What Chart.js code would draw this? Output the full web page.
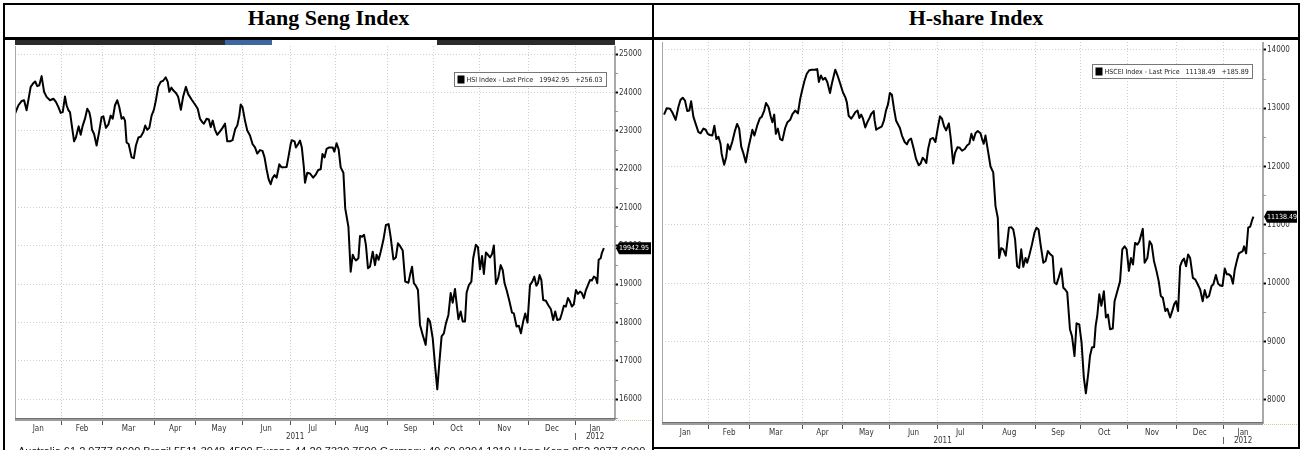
<!DOCTYPE html>
<html>
<head>
<meta charset="utf-8">
<title>Hang Seng Index / H-share Index</title>
<script src="https://cdn.jsdelivr.net/npm/chart.js@4.4.1/dist/chart.umd.min.js"></script>
<style>
  html, body { margin: 0; padding: 0; background: #fff; }
  body { width: 1303px; height: 450px; position: relative; overflow: hidden; }
  .rule { position: absolute; background: #000; }
  .title { position: absolute; top: 5px; height: 32px; line-height: 32px; text-align: center;
           font: bold 22px "Liberation Serif", "Times New Roman", serif; color: #000; }
  .panel { position: absolute; }
  .bar { position: absolute; top: 40px; height: 5px; }
  .footer { position: absolute; left: 18px; top: 446px; width: 634px; overflow: hidden; white-space: pre;
            font: 11px/11px "Liberation Sans", Arial, sans-serif; color: #111; }
</style>
</head>
<body>

<div class="title" style="left:5px; width:647px;">Hang Seng Index</div>
<div class="title" style="left:654px; width:644px;">H-share Index</div>

<!-- toolbar strip of the first Bloomberg screen, mostly hidden under the header -->
<div class="bar" style="left:15px; width:210px; background:#2b2b2b;"></div>
<div class="bar" style="left:225px; width:47px; background:#3d67a0;"></div>
<div class="bar" style="left:272px; width:165px; background:#fff;"></div>
<div class="bar" style="left:437px; width:178px; background:#2b2b2b;"></div>

<div class="panel" style="left:15px; top:46px; width:637px; height:402px;"><canvas id="hsiChart"></canvas></div>
<div class="panel" style="left:662px; top:42px; width:636px; height:405px;"><canvas id="hsceiChart"></canvas></div>

<div class="footer">Australia 61 2 9777 8600 Brazil 5511 3048 4500 Europe 44 20 7330 7500 Germany 49 69 9204 1210 Hong Kong 852 2977 6000</div>

<!-- table rules -->
<div class="rule" style="left:3px; top:3px; width:1297px; height:2px;"></div>
<div class="rule" style="left:3px; top:37px; width:1297px; height:3px;"></div>
<div class="rule" style="left:3px; top:3px; width:2px; height:447px;"></div>
<div class="rule" style="left:652px; top:3px; width:2px; height:447px;"></div>
<div class="rule" style="left:1298px; top:3px; width:2px; height:446px;"></div>
<div class="rule" style="left:652px; top:447px; width:648px; height:2px;"></div>

<script>
// x = trading day counted from 3 Jan 2011
const monthNames = ['Jan', 'Feb', 'Mar', 'Apr', 'May', 'Jun', 'Jul', 'Aug', 'Sep', 'Oct', 'Nov', 'Dec', 'Jan'];
const monthStarts = [0, 20.5, 38.5, 61.5, 79.5, 100, 121, 141, 164, 184, 204.5, 226, 246.5];
const yearLabels = ['2011', '2012'];
const dayMax = 264;

// --- Hang Seng Index ---
const hsiDays = [
  0, 1.5, 2.9, 4.0, 5.1, 6.9, 8.1, 8.9, 9.8, 10.7,
  11.7, 12.8, 13.9, 15.4, 16.9, 18.0, 19.1, 20.1, 21.0, 22.0,
  22.7, 23.5, 24.2, 25.1, 26.0, 26.8, 28.0, 28.9, 29.8, 30.8,
  31.8, 32.7, 33.3, 33.9, 34.8, 35.9, 37.0, 38.1, 38.9, 40.0,
  41.1, 42.1, 43.0, 44.0, 45.0, 45.9, 46.9, 47.7, 48.4, 49.1,
  50.0, 51.3, 52.3, 53.2, 54.3, 55.3, 56.5, 57.3, 58.2, 59.1,
  60.1, 61.1, 62.0, 63.0, 64.1, 65.2, 66.3, 67.2, 67.9, 68.8,
  69.6, 70.8, 71.8, 73.0, 74.0, 75.2, 76.2, 77.7, 79.2, 80.4,
  81.4, 82.4, 83.1, 84.3, 85.3, 86.1, 87.0, 88.0, 89.0, 90.2,
  91.3, 92.4, 93.4, 94.6, 95.7, 96.9, 97.8, 98.7, 99.3, 100.1,
  101.2, 102.2, 103.4, 104.5, 105.6, 106.6, 107.8, 108.9, 109.8, 110.7,
  111.6, 112.5, 113.3, 114.2, 115.1, 116.3, 117.3, 118.3, 119.5, 120.4,
  121.3, 121.8, 123.0, 123.6, 124.6, 125.4, 126.2, 127.1, 127.6, 128.6,
  129.8, 131.2, 132.4, 133.4, 134.5, 135.3, 136.2, 137.1, 138.3,
  139.8, 140.5, 141.5, 142.4, 143.3, 144.5, 145.3, 146.7, 147.7, 148.6,
  149.3, 150.0, 151.1, 151.8, 152.7, 153.6, 154.4, 155.3, 156.2, 157.4,
  158.4, 159.1, 160.0, 160.9, 162.1, 163.2, 164.4, 165.3, 166.5, 167.6,
  168.5, 169.4, 170.6, 171.7, 173.1, 173.8, 174.7, 175.5, 176.4, 177.3,
  178.2, 179.4, 180.7, 181.7, 182.6, 183.8, 184.8, 185.8, 186.7, 187.7,
  188.7, 189.6, 190.7, 191.7, 192.6, 193.6, 194.3, 195.1, 196.1, 197.0,
  198.0, 198.7, 199.7, 200.8, 201.6, 202.8, 203.7, 204.6, 205.5, 206.3,
  207.2, 208.1, 209.0, 209.9, 210.7, 211.6, 212.6, 213.7, 214.6, 215.4,
  216.3, 217.5, 218.7, 219.5, 220.7, 221.7, 222.6, 223.6, 224.5, 225.5,
  226.6, 227.6, 228.5, 229.4, 230.1, 230.8, 231.6, 232.4, 233.6, 234.6,
  235.8, 236.8, 237.7, 238.6, 239.8, 240.6, 241.5, 242.4, 243.3, 244.2,
  245.0, 245.9, 246.8, 247.7, 248.6, 249.4, 250.3, 251.2, 252.1, 253.0,
  253.8, 254.7, 255.6, 256.2, 256.8, 257.7, 258.2, 259.1
];
const hsiValues = [
  23450, 23670, 23780, 23800, 23540, 24150, 24250, 24290, 24170, 24190,
  24430, 24020, 23890, 23800, 23840, 23760, 23620, 23470, 23490, 23900,
  23670, 23540, 23490, 23100, 22730, 22830, 23120, 22900, 23140, 23320,
  23580, 23490, 23320, 23030, 22920, 22620, 22970, 23360, 23380, 23080,
  23170, 23400, 23320, 23670, 23800, 23620, 23320, 23360, 23270, 22700,
  22660, 22310, 22290, 22620, 22830, 22850, 22970, 23140, 23030, 23080,
  23400, 23550, 23800, 24150, 24280, 24310, 24400, 24280, 24020, 24130,
  24060, 23990, 23890, 23550, 23900, 24150, 23960, 23820, 23690, 23580,
  23320, 23230, 23190, 23320, 23300, 23100, 23270, 23030, 22900, 22990,
  23080, 23190, 22730, 22730, 22760, 23050, 23140, 23400, 23690, 23620,
  23270, 23010, 22880, 22660, 22570, 22410, 22500, 22480, 22310, 22000,
  21740, 21610, 21770, 21850, 21780, 22130, 22050, 22050, 22060, 22350,
  22660, 22760, 22730, 22570, 22660, 22750, 22570, 22050, 21650, 21910,
  21890, 21780, 21870, 21980, 22000, 22400, 22310, 22530, 22570,
  22570, 22460, 22680, 22520, 22050, 21910, 20980, 20500, 19330, 19770,
  19680, 19620, 19680, 20260, 20240, 20290, 20030, 19420, 19460, 19850,
  19500, 19770, 19640, 19850, 20160, 20550, 20570, 20230, 19650, 19700,
  20070, 20000, 19880, 19070, 19040, 19240, 19460, 19030, 18960, 18850,
  17940, 17680, 17420, 18110, 18030, 17590, 16900, 16260, 16940, 17640,
  17720, 17980, 18200, 18770, 18520, 18880, 18500, 18090, 18290, 18030,
  18030, 18780, 18980, 19070, 19680, 20030, 19970, 19390, 19740, 19270,
  19830, 19770, 19700, 19790, 20010, 19010, 19160, 19500, 19370, 19030,
  18850, 18570, 18260, 18240, 17900, 17920, 17720, 18030, 18240, 18000,
  18980, 19070, 19200, 18960, 19030, 19240, 19110, 18590, 18570, 18460,
  18350, 18070, 18290, 18070, 18090, 18240, 18440, 18420, 18640, 18550,
  18420, 18480, 18850, 18750, 18810, 18770, 18640, 18850, 18980, 19110,
  19100, 19200, 19160, 19030, 19640, 19680, 19810, 19942.95
];
const hsiChange = 256.03;
const hsiMajorTicks = [16000, 17000, 18000, 19000, 20000, 21000, 22000, 23000, 24000, 25000];
const hsiRange = [15460, 25216];

// --- HSCEI (H-share) Index ---
const hsceiDays = [
  0.9, 2.1, 3.5, 4.5, 6.0, 7.2, 8.1, 9.1, 10.1, 11.1,
  12.0, 12.8, 13.8, 14.8, 16.0, 17.0, 18.2, 19.2, 20.1, 21.1,
  22.1, 23.0, 23.9, 24.8, 25.7, 26.2, 27.3, 28.2, 28.9, 29.8,
  30.9, 32.1, 33.0, 33.9, 34.8, 35.8, 36.8, 38.0, 39.0, 39.7,
  40.6, 41.8, 43.0, 43.8, 44.9, 45.7, 46.8, 47.8, 48.5, 49.3,
  50.0, 50.9, 51.9, 52.9, 54.1, 55.1, 56.3, 57.3, 58.5, 59.7,
  60.7, 61.7, 62.6, 63.6, 64.7, 65.8, 67.0, 68.2, 68.9, 69.8,
  70.7, 71.7, 72.6, 73.8, 74.6, 76.1, 77.3, 78.3, 79.5, 80.5,
  81.2, 82.0, 83.1, 84.0, 84.9, 85.9, 86.7, 87.5, 88.3, 89.3,
  90.2, 91.1, 91.9, 93.0, 93.4, 94.1, 95.2, 96.6, 97.5, 98.4,
  99.3, 100.1, 101.0, 101.9, 102.8, 103.7, 104.5, 105.4, 106.6, 107.6,
  108.4, 109.4, 110.6, 111.6, 112.8, 113.6, 114.5, 115.4, 116.1, 116.9,
  117.9, 119.1, 120.1, 121.1, 122.1, 123.0, 123.9, 124.8, 126.0, 126.8,
  127.9, 128.7, 129.8, 130.8, 131.8, 133.0, 134.0, 135.0, 135.9, 136.8,
  137.7, 138.7, 139.9, 140.6, 141.3, 142.1,
  143.1, 144.3, 145.5, 146.5, 147.5, 148.1, 149.0, 149.9, 151.0, 152.4,
  153.4, 154.3, 155.1, 156.0, 156.9, 157.8, 158.7, 159.7, 160.4, 161.3,
  162.5, 163.6, 164.5, 165.4, 166.3, 167.5, 168.5, 169.5, 170.7, 171.6,
  172.4, 173.3, 174.2, 175.4, 176.3, 177.1, 178.0, 179.2, 180.1, 181.2,
  182.1, 183.3, 184.3, 185.3, 186.2, 187.3, 188.0, 188.9, 189.8, 190.5,
  191.2, 192.1, 193.0, 194.1, 195.0, 195.9, 196.8, 198.0, 198.8, 200.0,
  201.2, 202.2, 203.2, 204.1, 205.1, 206.0, 206.9, 207.8, 208.8, 209.7,
  211.2, 212.0, 213.2, 214.2, 215.1, 216.1, 217.2, 218.2, 219.1, 220.0,
  221.1, 222.0, 223.2, 224.1, 225.0, 225.8, 226.7, 227.6, 228.5, 229.3,
  230.2, 231.1, 232.0, 233.2, 234.3, 235.2, 236.4, 237.5, 238.4, 239.3,
  240.3, 241.4, 242.2, 243.3, 244.3, 245.2, 246.2, 247.2, 248.1, 249.0,
  249.9, 250.8, 251.6, 252.5, 253.4, 254.3, 255.1, 255.7, 256.6, 257.5,
  258.4, 259.3, 259.8
];
const hsceiValues = [
  12890, 13000, 12990, 12930, 12800, 13020, 13140, 13180, 13130, 12950,
  12960, 13120, 12850, 12730, 12590, 12570, 12650, 12630, 12560, 12540,
  12530, 12700, 12470, 12510, 12390, 12220, 12030, 12160, 12380, 12290,
  12430, 12620, 12730, 12650, 12340, 12220, 12070, 12330, 12500, 12630,
  12530, 12700, 12830, 12850, 12960, 13090, 13020, 12850, 12760, 12890,
  12560, 12650, 12470, 12450, 12660, 12760, 12800, 12900, 12960, 12910,
  13160, 13330, 13470, 13590, 13650, 13660, 13660, 13670, 13450, 13560,
  13490, 13520, 13450, 13260, 13420, 13660, 13540, 13420, 13270, 13190,
  13100, 12870, 12820, 12870, 12930, 12960, 12830, 12890, 12820, 12670,
  12760, 12830, 12900, 12950, 12790, 12630, 12660, 12690, 12790, 12960,
  13070, 13260, 13230, 12990, 12790, 12720, 12660, 12530, 12420, 12380,
  12450, 12480, 12300, 12130, 12020, 12050, 12150, 12110, 12060, 12300,
  12470, 12490, 12420, 12650, 12860, 12820, 12690, 12620, 12740, 12500,
  12050, 12230, 12330, 12320, 12270, 12300, 12360, 12390, 12560, 12450,
  12570, 12610, 12570, 12470, 12390, 12530,
  12290, 12000, 11900, 11320, 11120, 10430, 10600, 10580, 10470, 10950,
  10960, 10920, 10750, 10290, 10260, 10580, 10280, 10430, 10350, 10470,
  10660, 10860, 10950, 10920, 10660, 10350, 10380, 10550, 10490, 10460,
  10010, 9980, 10090, 10250, 9920, 9890, 9840, 9210, 9090, 8750,
  9310, 9290, 8980, 8380, 8110, 8470, 8750, 8900, 8900, 9270,
  9440, 9810, 9610, 9860, 9410, 9460, 9210, 9220, 9690, 9860,
  10030, 10580, 10630, 10580, 10210, 10430, 10320, 10690, 10660, 10720,
  10930, 10350, 10430, 10720, 10660, 10380, 10210, 10030, 9780, 9750,
  9520, 9560, 9410, 9520, 9640, 9690, 9520, 10290, 10380, 10420,
  10290, 10490, 10430, 10090, 10060, 9990, 9890, 9690, 9880, 9750,
  9780, 9950, 9980, 10140, 9990, 9960, 9950, 10250, 10150, 10150,
  10120, 9990, 10230, 10380, 10510, 10530, 10550, 10630, 10510, 10950,
  10970, 11090, 11138.49
];
const hsceiChange = 185.89;
const hsceiMajorTicks = [8000, 9000, 10000, 11000, 12000, 13000, 14000];
const hsceiRange = [7584, 14135];

const smallFont = '"Liberation Sans Narrow", "DejaVu Sans Condensed", "Liberation Sans", sans-serif';

// major ticks every 1000, unlabeled minor ticks half way
function withMinorTicks(major, range) {
    const all = [];
    major.forEach(v => { all.push(v - 500, v); });
    all.push(major[major.length - 1] + 500);
    return all.filter(v => v >= range[0] && v <= range[1]);
}

// --- Bloomberg screen furniture: frame, month labels, legend, last price tag ---
const bloombergDecor = {
    id: 'bbg',
    afterDraw(chart, args, o) {
        const { ctx, chartArea: a } = chart;
        const x = chart.scales.x, y = chart.scales.y;
        const values = chart.data.datasets[0].data;
        const last = values[values.length - 1].y;
        ctx.save();

        // plot frame
        ctx.strokeStyle = '#a8a8a8';
        ctx.lineWidth = 1;
        ctx.beginPath();
        ctx.moveTo(a.left + 0.5, a.top);
        ctx.lineTo(a.left + 0.5, a.bottom);
        ctx.stroke();
        ctx.strokeStyle = '#8c8c8c';
        ctx.lineWidth = 1.5;
        ctx.beginPath();
        ctx.moveTo(a.right, a.top);
        ctx.lineTo(a.right, a.bottom);
        ctx.stroke();

        // x axis band and the dotted stub beyond it
        ctx.fillStyle = '#9d9d9d';
        ctx.fillRect(a.left, a.bottom - 2, a.right - a.left, 3);
        ctx.fillStyle = '#6f6f6f';
        ctx.fillRect(a.left, a.bottom - 2, a.right - a.left, 1);
        ctx.strokeStyle = '#d6c79a';
        ctx.lineWidth = 1;
        ctx.setLineDash([1, 1]);
        ctx.beginPath();
        ctx.moveTo(a.right + 1, a.bottom + 0.5);
        ctx.lineTo(chart.width, a.bottom + 0.5);
        ctx.stroke();
        ctx.setLineDash([]);

        // month and year labels
        ctx.font = '8px ' + smallFont;
        ctx.fillStyle = '#333';
        ctx.textAlign = 'center';
        ctx.textBaseline = 'middle';
        monthNames.forEach((m, i) => {
            const end = i + 1 < monthStarts.length ? monthStarts[i + 1] : dayMax;
            ctx.fillText(m, x.getPixelForValue((monthStarts[i] + end) / 2), a.bottom + o.labelGap);
        });
        const yearStart = monthStarts[monthStarts.length - 1];
        ctx.fillText(yearLabels[0], x.getPixelForValue(yearStart / 2), a.bottom + o.yearGap);
        ctx.fillText(yearLabels[1], x.getPixelForValue((yearStart + dayMax) / 2), a.bottom + o.yearGap);
        const sx = Math.round(x.getPixelForValue(yearStart)) + 0.5;
        ctx.strokeStyle = '#666';
        ctx.beginPath();
        ctx.moveTo(sx, a.bottom + o.yearGap - 4);
        ctx.lineTo(sx, a.bottom + o.yearGap + 3);
        ctx.stroke();

        // legend box
        const text = o.name + ' Index - Last Price   ' + last.toFixed(2) + '   +' + o.change.toFixed(2);
        ctx.font = '7px ' + smallFont;
        const w = Math.round(ctx.measureText(text).width) + 16;
        const lx = Math.round(a.right - o.legendRight - w) + 0.5;
        const ly = Math.round(a.top + o.legendTop) + 0.5;
        ctx.fillStyle = '#fff';
        ctx.fillRect(lx, ly, w, 14);
        ctx.strokeStyle = '#777';
        ctx.strokeRect(lx, ly, w, 14);
        ctx.fillStyle = '#000';
        ctx.fillRect(lx + 3, ly + 3, 7, 8);
        ctx.fillStyle = '#222';
        ctx.textAlign = 'left';
        ctx.fillText(text, lx + 12, ly + 7.5);

        // last price tag on the axis
        const ty = y.getPixelForValue(last);
        const tx = a.right + 1;
        const label = last.toFixed(2);
        ctx.font = '7px ' + smallFont;
        const tw = Math.min(Math.round(ctx.measureText(label).width) + 5, chart.width - tx - 1);
        ctx.fillStyle = '#000';
        ctx.beginPath();
        ctx.moveTo(tx, ty);
        ctx.lineTo(tx + 3, ty - 6);
        ctx.lineTo(tx + tw, ty - 6);
        ctx.lineTo(tx + tw, ty + 6);
        ctx.lineTo(tx + 3, ty + 6);
        ctx.closePath();
        ctx.fill();
        ctx.fillStyle = '#fff';
        ctx.fillText(label, tx + 3, ty + 0.5);

        ctx.restore();
    }
};

function makeChart(canvasId, days, values, cfg) {
    const ctx = document.getElementById(canvasId).getContext('2d');
    const yTicks = withMinorTicks(cfg.major, cfg.range);
    const isMajor = v => cfg.major.includes(v);

    return new Chart(ctx, {
        type: 'line',
        data: {
            datasets: [{
                data: days.map((d, i) => ({ x: d, y: values[i] })),
                borderColor: '#000',
                borderWidth: 2,
                borderJoinStyle: 'round',
                pointRadius: 0,
                tension: 0,
                fill: false
            }]
        },
        options: {
            responsive: true,
            maintainAspectRatio: false,
            animation: false,
            layout: { padding: 0 },
            plugins: {
                legend: { display: false },
                tooltip: { enabled: false },
                bbg: cfg
            },
            scales: {
                x: {
                    type: 'linear',
                    min: 0,
                    max: dayMax,
                    afterBuildTicks: s => { s.ticks = monthStarts.slice(1).map(v => ({ value: v })); },
                    afterFit: s => { s.height = cfg.xAxisHeight; s.paddingLeft = 0; s.paddingRight = 0; },
                    ticks: { display: false },
                    grid: { color: '#cfcfcf', lineWidth: 1, tickColor: '#555', tickLength: 5, tickWidth: 1 },
                    border: { display: false, dash: [1, 2] }
                },
                y: {
                    position: 'right',
                    min: cfg.range[0],
                    max: cfg.range[1],
                    afterBuildTicks: s => { s.ticks = yTicks.map(v => ({ value: v })); },
                    afterFit: s => { s.width = cfg.yAxisWidth; s.paddingTop = 0; s.paddingBottom = 0; },
                    ticks: {
                        autoSkip: false,
                        padding: 1,
                        color: '#333',
                        font: { family: smallFont, size: 8 },
                        callback: v => isMajor(v) ? String(v) : ''
                    },
                    grid: {
                        color: c => (c.tick && isMajor(c.tick.value)) ? '#cfcfcf' : 'rgba(0,0,0,0)',
                        tickColor: c => (c.tick && isMajor(c.tick.value)) ? '#000' : '#999',
                        tickWidth: c => (c.tick && isMajor(c.tick.value)) ? 2 : 1,
                        tickLength: 3
                    },
                    border: { display: false, dash: [1, 2] }
                }
            }
        },
        plugins: [bloombergDecor]
    });
}

makeChart('hsiChart', hsiDays, hsiValues, {
    name: 'HSI', change: hsiChange, major: hsiMajorTicks, range: hsiRange,
    xAxisHeight: 28, yAxisWidth: 37, labelGap: 9, yearGap: 17, legendRight: 9, legendTop: 26
});
makeChart('hsceiChart', hsceiDays, hsceiValues, {
    name: 'HSCEI', change: hsceiChange, major: hsceiMajorTicks, range: hsceiRange,
    xAxisHeight: 23, yAxisWidth: 35, labelGap: 9, yearGap: 17, legendRight: 11, legendTop: 22
});
</script>
</body>
</html>
